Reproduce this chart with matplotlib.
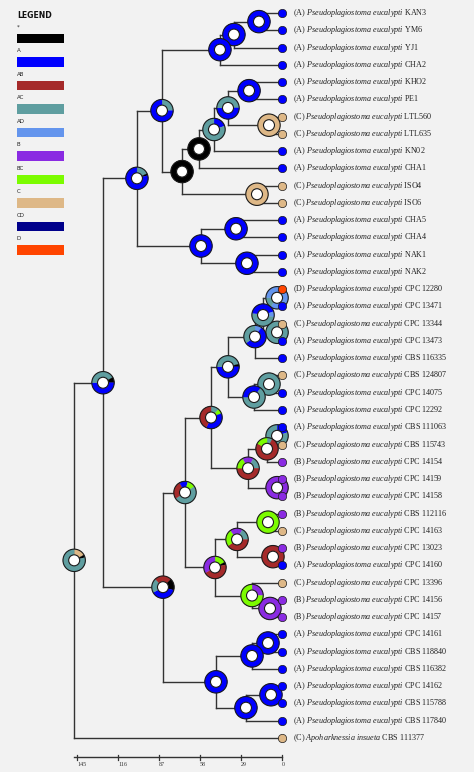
import matplotlib.pyplot as plt
import matplotlib.transforms as mtransforms
from matplotlib.patches import Wedge, Circle, Rectangle

plt.rcParams['mathtext.fontset'] = 'custom'
plt.rcParams['mathtext.it'] = 'Liberation Serif:italic'
plt.rcParams['mathtext.rm'] = 'Liberation Serif'

# legend states and colours
state_names = ["*", "A", "AB", "AC", "AD", "B", "BC", "C", "CD", "D"]
state_colors = ["#000000", "#0000ff", "#a52a2a", "#5f9ea0", "#6495ed",
                "#8a2be2", "#7cfc00", "#deb887", "#00008b", "#ff4500"]
color_of = dict(zip(state_names, state_colors))

# tips, top to bottom
tip_states = ["A", "A", "A", "A", "A", "A", "C", "C", "A", "A", "C", "C",
              "A", "A", "A", "A", "D", "A", "C", "A", "A", "C", "A", "A",
              "A", "C", "B", "B", "B", "B", "C", "B", "A", "C", "B", "B",
              "A", "A", "A", "A", "A", "A", "C"]
tip_genus = ["Pseudoplagiostoma"] * 42 + ["Apoharknessia"]
tip_species = ["eucalypti"] * 42 + ["insueta"]
tip_strains = ["KAN3", "YM6", "YJ1", "CHA2", "KHO2", "PE1", "LTL560", "LTL635",
               "KN02", "CHA1", "ISO4", "ISO6", "CHA5", "CHA4", "NAK1", "NAK2",
               "CPC 12280", "CPC 13471", "CPC 13344", "CPC 13473", "CBS 116335",
               "CBS 124807", "CPC 14075", "CPC 12292", "CBS 111063", "CBS 115743",
               "CPC 14154", "CPC 14159", "CPC 14158", "CBS 112116", "CPC 14163",
               "CPC 13023", "CPC 14160", "CPC 13396", "CPC 14156", "CPC 14157",
               "CPC 14161", "CBS 118840", "CBS 116382", "CPC 14162", "CBS 115788",
               "CBS 117840", "CBS 111377"]

# internal nodes: children (tip index or node name)
node_children = {
    "n01": (0, 1), "n02": ("n01", 2), "n03": ("n02", 3), "n04": (4, 5),
    "n05": (6, 7), "n06": ("n04", "n05"), "n07": ("n06", 8), "n08": ("n07", 9),
    "n09": (10, 11), "n10": ("n08", "n09"), "n11": ("n03", "n10"),
    "n12": (12, 13), "n13": (14, 15), "n14": ("n12", "n13"), "n15": ("n11", "n14"),
    "n16": (16, 17), "n17": (18, 19), "n18": ("n16", "n17"), "n19": ("n18", 20),
    "n20": (21, 22), "n21": ("n20", 23), "n22": ("n19", "n21"),
    "n23": (24, 25), "n24": ("n23", 26), "n25": (27, 28), "n26": ("n24", "n25"),
    "n27": ("n22", "n26"), "n28": (29, 30), "n29": (31, 32), "n30": ("n28", "n29"),
    "n31": (34, 35), "n32": (33, "n31"), "n33": ("n30", "n32"), "n34": ("n27", "n33"),
    "n35": (36, 37), "n36": ("n35", 38), "n37": (39, 40), "n38": ("n37", 41),
    "n39": ("n36", "n38"), "n40": ("n34", "n39"), "n41": ("n15", "n40"),
    "root": ("n41", 42),
}

# node ages (Mya)
node_ages = {
    "n01": 16.3, "n02": 34.0, "n03": 43.9, "n04": 23.3, "n05": 9.2, "n06": 38.2,
    "n07": 48.1, "n08": 58.7, "n09": 17.7, "n10": 70.7, "n11": 84.9, "n12": 32.5,
    "n13": 24.8, "n14": 57.3, "n15": 102.6, "n16": 3.5, "n17": 3.5, "n18": 13.4,
    "n19": 19.1, "n20": 9.2, "n21": 19.8, "n22": 38.2, "n23": 3.5, "n24": 10.6,
    "n25": 3.5, "n26": 24.0, "n27": 50.2, "n28": 9.9, "n29": 6.4, "n30": 31.8,
    "n31": 8.5, "n32": 21.2, "n33": 47.4, "n34": 68.6, "n35": 9.9, "n36": 21.2,
    "n37": 7.8, "n38": 25.5, "n39": 46.7, "n40": 84.2, "n41": 126.6, "root": 147.0,
}

# ancestral area probabilities, clockwise from 12 o'clock
node_pies = {
    "n01": [("A", 1)], "n02": [("A", 1)], "n03": [("A", 1)], "n04": [("A", 1)],
    "n05": [("C", 1)],
    "n06": [("AC", 0.25), ("A", 0.5), ("AC", 0.25)],
    "n07": [("A", 0.2), ("AC", 0.8)],
    "n08": [("*", 1)], "n09": [("C", 1)], "n10": [("*", 1)],
    "n11": [("AC", 0.25), ("A", 0.75)],
    "n12": [("A", 1)], "n13": [("A", 1)], "n14": [("A", 1)],
    "n15": [("AC", 0.18), ("*", 0.03), ("A", 0.79)],
    "n16": [("AD", 0.6), ("AC", 0.15), ("AD", 0.25)],
    "n17": [("AC", 1)],
    "n18": [("A", 0.2), ("AD", 0.08), ("AC", 0.5), ("A", 0.22)],
    "n19": [("AD", 0.1), ("A", 0.55), ("AC", 0.35)],
    "n20": [("AC", 1)],
    "n21": [("A", 0.1), ("AC", 0.65), ("A", 0.25)],
    "n22": [("AC", 0.21), ("*", 0.04), ("A", 0.5), ("AC", 0.25)],
    "n23": [("A", 0.2), ("AC", 0.8)],
    "n24": [("AC", 0.08), ("AB", 0.75), ("BC", 0.17)],
    "n25": [("B", 1)],
    "n26": [("B", 0.08), ("AC", 0.17), ("AB", 0.5), ("BC", 0.17), ("B", 0.08)],
    "n27": [("AC", 0.12), ("BC", 0.07), ("A", 0.38), ("AB", 0.43)],
    "n28": [("BC", 1)], "n29": [("AB", 1)],
    "n30": [("B", 0.08), ("AC", 0.17), ("AB", 0.4), ("BC", 0.25), ("B", 0.1)],
    "n31": [("B", 1)],
    "n32": [("B", 0.25), ("BC", 0.75)],
    "n33": [("BC", 0.17), ("*", 0.04), ("AB", 0.46), ("B", 0.33)],
    "n34": [("A", 0.04), ("BC", 0.12), ("AC", 0.5), ("AB", 0.26), ("A", 0.08)],
    "n35": [("A", 1)], "n36": [("A", 1)], "n37": [("A", 1)], "n38": [("A", 1)],
    "n39": [("A", 1)],
    "n40": [("AB", 0.125), ("*", 0.17), ("A", 0.375), ("AC", 0.21), ("AB", 0.12)],
    "n41": [("AC", 0.17), ("*", 0.08), ("A", 0.5), ("AC", 0.25)],
    "root": [("C", 0.17), ("*", 0.04), ("AC", 0.79)],
}

axis_ticks = [145, 116, 87, 58, 29, 0]

# ---- layout
W, H = 474, 772
px_per_my = 41 / 29
x0_px = 282
y0_px = 13
px_per_tip = 17.26
bg = "#f2f2f2"
line_c = "#333333"

fig = plt.figure(figsize=(W / 100, H / 100), dpi=100, facecolor=bg)
ax = fig.add_axes([0, 0, 1, 1])
ax.set_facecolor(bg)
ax.axis("off")
ax.set_autoscale_on(False)
ax.set_xlim(x0_px / px_per_my, -(W - x0_px) / px_per_my)
ax.set_ylim((H - y0_px) / px_per_tip, -y0_px / px_per_tip)

pos = {}


def place(n):
    if isinstance(n, int):
        pos[n] = (0.0, float(n))
        return pos[n]
    ys = [place(c)[1] for c in node_children[n]]
    pos[n] = (node_ages[n], sum(ys) / len(ys))
    return pos[n]


place("root")

order = []


def postorder(n):
    if isinstance(n, int):
        return
    for c in node_children[n]:
        postorder(c)
    order.append(n)


postorder("root")

# branches
for n in order:
    x, y = pos[n]
    cy = [pos[c][1] for c in node_children[n]]
    ax.plot([x, x], [min(cy), max(cy)], color=line_c, lw=1.0, zorder=1,
            solid_capstyle="projecting")
    for c in node_children[n]:
        ax.plot([x, pos[c][0]], [pos[c][1], pos[c][1]], color=line_c, lw=1.0,
                zorder=1, solid_capstyle="projecting")

# pies
R, r = 0.112, 0.055
for z, n in enumerate(order):
    x, y = pos[n]
    tr = fig.dpi_scale_trans + mtransforms.ScaledTranslation(x, y, ax.transData)
    ang = 90.0
    for st, frac in node_pies[n]:
        a1 = ang - 360 * frac
        ax.add_patch(Wedge((0, 0), R, a1, ang, width=R - r, facecolor=color_of[st],
                           edgecolor=color_of[st], lw=0.2, transform=tr, zorder=3 + z * 0.01))
        ang = a1
    ax.add_patch(Circle((0, 0), R, fill=False, edgecolor="#1a1a1a", lw=0.8,
                        transform=tr, zorder=3 + z * 0.01))
    ax.add_patch(Circle((0, 0), r, facecolor="white", edgecolor="#1a1a1a", lw=0.8,
                        transform=tr, zorder=3 + z * 0.01))

# tips
for i, st in enumerate(tip_states):
    ax.scatter([0], [i], s=36, color=color_of[st], edgecolors="#1a1a1a",
               linewidths=0.5, zorder=10)
    label = (f"({st}) $\\mathit{{{tip_genus[i]}}}$ $\\mathit{{{tip_species[i]}}}$ "
             f"{tip_strains[i]}")
    ax.annotate(label, (0, i), xytext=(7.9, 0), textcoords="offset points",
                va="center", ha="left", fontsize=5.9, family="Liberation Serif",
                color="#222222")

# time axis
axis_y = (757 - y0_px) / px_per_tip
tick_h = 2.5 / px_per_tip
ax.plot([node_ages["root"], 0], [axis_y, axis_y], color=line_c, lw=1.0, zorder=1)
for t in axis_ticks:
    ax.plot([t, t], [axis_y - tick_h, axis_y + tick_h], color=line_c, lw=0.9)
    ax.annotate(str(t), (t, axis_y), xytext=(0, -3.5), textcoords="offset points",
                ha="left", va="top", fontsize=4.3, family="Liberation Serif",
                color="#333333")

# legend
lg = fig.add_axes([0, 0, 1, 1])
lg.set_xlim(0, W)
lg.set_ylim(H, 0)
lg.axis("off")
lg.patch.set_alpha(0)
lg.text(17, 16, "LEGEND", fontsize=5.6, fontweight="bold", family="DejaVu Sans",
        va="center", ha="left", color="#111111")
for k, (name, col) in enumerate(zip(state_names, state_colors)):
    yc = 27.2 + 23.5 * k
    lg.text(17, yc, name, fontsize=4, family="DejaVu Sans", va="center",
            ha="left", color="#222222")
    lg.add_patch(Rectangle((17, yc + 6.3), 47, 9.5, facecolor=col,
                           edgecolor="none"))

fig.savefig("out.png", dpi=100, facecolor=bg)
